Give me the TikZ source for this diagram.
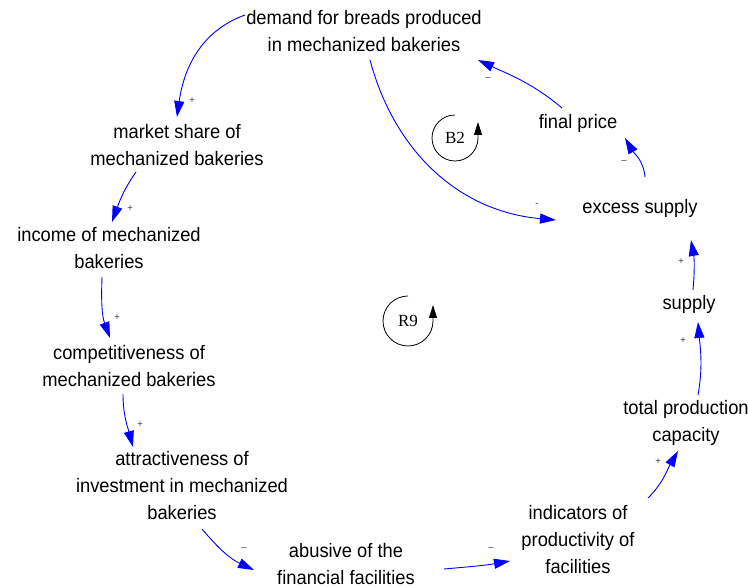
\documentclass[tikz,border=0pt]{standalone}
\usepackage{fontspec}
\setmainfont{Liberation Sans}[FakeStretch=0.94]
\newfontfamily\loopfont{Liberation Serif}
\usetikzlibrary{arrows.meta}
\definecolor{linkblue}{RGB}{0,0,255}
\begin{document}
\begin{tikzpicture}[x=1pt,y=1pt,
  var/.style={align=center,inner sep=0pt,font=\fontsize{19.5}{27}\selectfont},
  link/.style={draw=linkblue,line width=0.9pt,-{Triangle[length=16pt,width=10pt]}},
  sign/.style={inner sep=0pt,font=\fontsize{10}{10}\selectfont,text=black!75},
  loopmark/.style={line width=0.8pt,-{Triangle[length=13pt,width=8pt]}},
  looplabel/.style={inner sep=0pt,font=\loopfont\fontsize{17}{17}\selectfont}]
\fill[white] (0,0) rectangle (748,588);
\useasboundingbox (0,0) rectangle (748,588);

% variables
\node[var] (dem) at (364,557) {demand for breads produced\\in mechanized bakeries};
\node[var] (mkt) at (177,443) {market share of\\mechanized bakeries};
\node[var] (inc) at (109,340) {income of mechanized\\bakeries};
\node[var] (cmp) at (129,222) {competitiveness of\\mechanized bakeries};
\node[var] (att) at (182,102) {attractiveness of\\investment in mechanized\\bakeries};
\node[var] (abu) at (346,24) {abusive of the\\financial facilities};
\node[var] (ind) at (578,48) {indicators of\\productivity of\\facilities};
\node[var] (tpc) at (686,165) {total production\\capacity};
\node[var] (sup) at (689,284) {supply};
\node[var] (exc) at (640,380) {excess supply};
\node[var] (fin) at (578,465) {final price};

% causal links
\draw[link] ([shift={(-119,16)}]dem.center) to[out=200,in=82] ([shift={(0,28)}]mkt.center);
\draw[link] ([shift={(-41,-27)}]mkt.center) to[out=235,in=70] ([shift={(3,26)}]inc.center);
\draw[link] ([shift={(-7,-29)}]inc.center) to[out=268,in=110] ([shift={(-19,28)}]cmp.center);
\draw[link] ([shift={(-6,-28)}]cmp.center) to[out=270,in=105] ([shift={(-49,39)}]att.center);
\draw[link] ([shift={(20,-43)}]att.center) to[out=-50,in=155] ([shift={(-92,-6)}]abu.center);
\draw[link] ([shift={(98,-5)}]abu.center) to[out=5,in=190] ([shift={(-68,-21)}]ind.center);
\draw[link] ([shift={(70,42)}]ind.center) to[out=45,in=-120] ([shift={(-8,-28)}]tpc.center);
\draw[link] ([shift={(12,28)}]tpc.center) to[out=80,in=-85] ([shift={(9,-18)}]sup.center);
\draw[link] ([shift={(4,14)}]sup.center) to[out=85,in=-80] ([shift={(51,-32)}]exc.center);
\draw[link] ([shift={(5,31)}]exc.center) to[out=95,in=-60] ([shift={(47,-15)}]fin.center);
\draw[link] ([shift={(-16,15)}]fin.center) to[out=140,in=-25] ([shift={(114,-29)}]dem.center);
\draw[link] ([shift={(6,-29)}]dem.center) to[out=-75,in=175] ([shift={(-84,-12)}]exc.center);

% polarities
\node[sign] (p1) at (192,487) {+};
\node[sign] (p2) at (130,379) {+};
\node[sign] (p3) at (117,270) {+};
\node[sign] (p4) at (140,163) {+};
\node[sign] (p5) at (244,39) {–};
\node[sign] (p6) at (491,39) {–};
\node[sign] (p7) at (658,126) {+};
\node[sign] (p8) at (683,247) {+};
\node[sign] (p9) at (681,326) {+};
\node[sign] (p10) at (624,426) {–};
\node[sign] (p11) at (488,509) {–};
\node[sign] (p12) at (537,383) {-};

% loop identifiers
\node[looplabel] (b2) at (455,450) {B2};
\draw[loopmark] ([shift={(0,23)}]b2.center) arc[start angle=90,end angle=360,radius=23] -- ++(0,16);
\node[looplabel] (r9) at (408,267) {R9};
\draw[loopmark] ([shift={(0,25)}]r9.center) arc[start angle=90,end angle=360,radius=25] -- ++(0,16);
\end{tikzpicture}
\end{document}
